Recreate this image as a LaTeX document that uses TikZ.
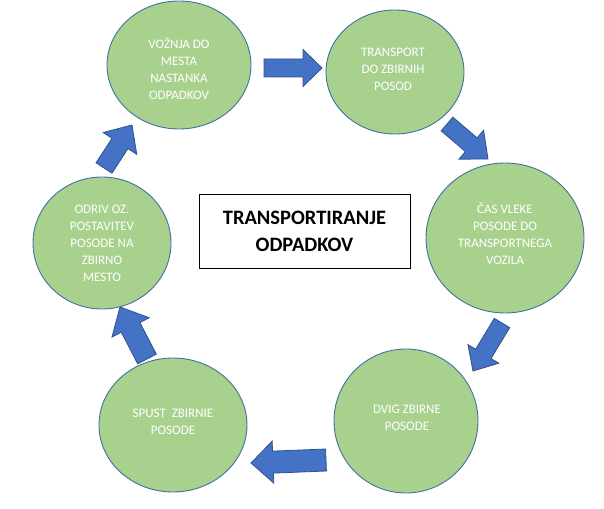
\documentclass[tikz,border=0pt]{standalone}
\usepackage{fontspec}
\setmainfont{Carlito}
\usetikzlibrary{shapes.geometric,calc}
\definecolor{circfill}{HTML}{A9D18E}
\definecolor{circline}{HTML}{41719C}
\definecolor{arrfill}{HTML}{4472C4}
\definecolor{arrline}{HTML}{2F528F}
% #1 tail coordinate, #2 tip coordinate, #3 shaft half width, #4 head half width, #5 head length
\newcommand\blockarr[5]{%
  \coordinate (#1base) at ($(#2)!#5!(#1)$);
  \draw[barrow] ($(#1)!#3!90:(#2)$) -- ($(#1base)!#3!90:(#2)$) -- ($(#1base)!#4!90:(#2)$) -- (#2)
    -- ($(#1base)!#4!-90:(#2)$) -- ($(#1base)!#3!-90:(#2)$) -- ($(#1)!#3!-90:(#2)$) -- cycle;}
\begin{document}
\begin{tikzpicture}[x=1pt,y=-1pt,
  circ/.style={ellipse, draw=circline, line width=0.9pt, fill=circfill, inner sep=0pt},
  circtext/.style={text=white, inner sep=0pt, align=center, font=\fontsize{13}{17}\selectfont},
  barrow/.style={fill=arrfill, draw=arrline, line width=0.8pt, line join=miter},
  titlebox/.style={draw=black, line width=1pt, fill=white, align=center,
    font=\bfseries\fontsize{20.5}{27}\selectfont}]
\useasboundingbox (0,0) rectangle (604,508);
% circles
\node[circ, minimum width=144pt, minimum height=128pt] (c1) at (179,65) {};
\node[circ, minimum width=138pt, minimum height=124pt] (c2) at (395,72) {};
\node[circ, minimum width=158pt, minimum height=150pt] (c3) at (505,238) {};
\node[circ, minimum width=144pt, minimum height=144pt] (c4) at (406,421) {};
\node[circ, minimum width=148pt, minimum height=134pt] (c5) at (173,425) {};
\node[circ, minimum width=138pt, minimum height=132pt] (c6) at (102,243) {};
% circle texts
\node[circtext] (t1) at ($(c1.center)+(0,3.5)$) {VOŽNJA DO\\MESTA\\NASTANKA\\ODPADKOV};
\node[circtext] (t2) at ($(c2.center)+(-2,-3)$) {TRANSPORT\\DO ZBIRNIH\\POSOD};
\node[circtext] (t3) at ($(c3.center)+(0,-4)$) {ČAS VLEKE\\POSODE DO\\TRANSPORTNEGA\\VOZILA};
\node[circtext] (t4) at ($(c4.center)+(1,-3)$) {DVIG ZBIRNE\\POSODE};
\node[circtext] (t5) at ($(c5.center)+(0,-3)$) {SPUST\ \ ZBIRNIE\\POSODE};
\node[circtext] (t6) at ($(c6.center)+(0,0)$) {ODRIV OZ.\\POSTAVITEV\\POSODE NA\\ZBIRNO\\MESTO};
% title
\node[titlebox, minimum width=211pt, minimum height=74pt] (title) at (304.5,231) {TRANSPORTIRANJE\\ODPADKOV};
% arrow end points
\coordinate (aAt) at (264,68);  \coordinate (aAh) at (322,68);
\coordinate (aBt) at (447,124); \coordinate (aBh) at (488,159);
\coordinate (aCt) at (502,323); \coordinate (aCh) at (473,371);
\coordinate (aDt) at (326,460); \coordinate (aDh) at (251,463);
\coordinate (aEt) at (147,359); \coordinate (aEh) at (120,307);
\coordinate (aFt) at (104,168); \coordinate (aFh) at (132,125);
\blockarr{aAt}{aAh}{9pt}{18.5pt}{19pt}
\blockarr{aBt}{aBh}{9pt}{19pt}{22pt}
\blockarr{aCt}{aCh}{9pt}{18pt}{20pt}
\blockarr{aDt}{aDh}{11pt}{21pt}{22pt}
\blockarr{aEt}{aEh}{10.5pt}{21pt}{23pt}
\blockarr{aFt}{aFh}{9.5pt}{20pt}{22pt}
\end{tikzpicture}
\end{document}
